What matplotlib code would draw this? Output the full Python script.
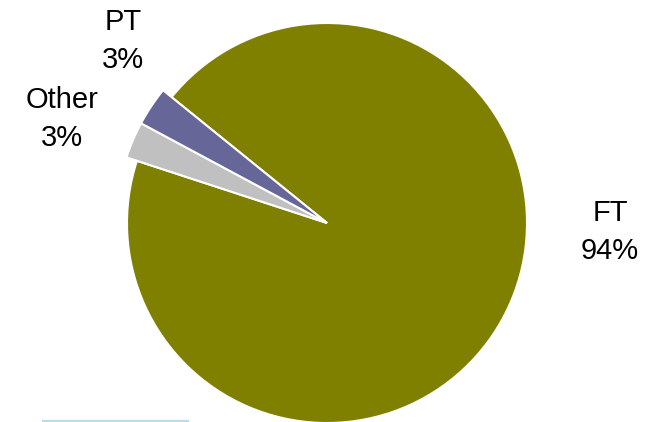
import matplotlib.pyplot as plt
from matplotlib.lines import Line2D

plt.rcParams['font.family'] = ['Liberation Sans', 'DejaVu Sans']

# slices in clockwise order starting at the PT/FT edge
labels = ['FT', 'Other', 'PT']
shares = [94.2, 2.8, 3.0]
shown = ['94%', '3%', '3%']
colors = ['#808000', '#C0C0C0', '#666699']
# the two small slices stick out a little past the big one
radius_scale = [1.0, 1.055, 1.055]

W, H = 652, 422
cx, cy, r = 327, 223, 200  # pie centre and radius in pixels (from top-left)

fig = plt.figure(figsize=(W / 100, H / 100), dpi=100)
ax = fig.add_axes([0, 0, 1, 1])

wedges, _ = ax.pie(shares, colors=colors, startangle=141, counterclock=False,
                   wedgeprops=dict(edgecolor='white', linewidth=1.5))
for w, k in zip(wedges, radius_scale):
    w.set_radius(k)

ax.set_aspect('auto')
ax.set_xlim(-cx / r, (W - cx) / r)
ax.set_ylim(-(H - cy) / r, cy / r)
ax.axis('off')


def px(x, y):
    return (x - cx) / r, (cy - y) / r


label_pos = {'FT': (610, 232), 'Other': (62, 119), 'PT': (123, 41)}
for lab, txt in zip(labels, shown):
    x, y = px(*label_pos[lab])
    ax.text(x, y, f'{lab}\n{txt}', ha='center', va='center',
            multialignment='center', fontsize=21, linespacing=1.42,
            color='black')

# thin light-blue rule at the bottom left
fig.add_artist(Line2D([43 / W, 187 / W], [1.5 / H, 1.5 / H],
                      color='#B8DEE6', linewidth=2.4,
                      transform=fig.transFigure))

fig.savefig('out.png', dpi=100)
